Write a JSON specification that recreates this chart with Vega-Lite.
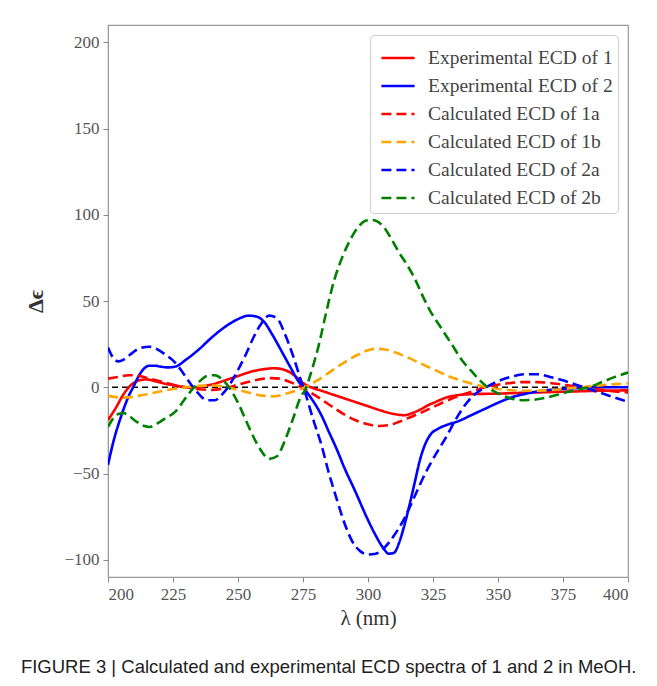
{
  "$schema": "https://vega.github.io/schema/vega-lite/v6.json",
  "width": 520,
  "height": 552,
  "autosize": {"type": "none"},
  "padding": {"left": 108, "top": 25, "right": 29, "bottom": 109},
  "background": "white",
  "config": {"view": {"stroke": "#999", "strokeWidth": 1.2}, "font": "Liberation Serif"},
  "title": {"text": "FIGURE 3 | Calculated and experimental ECD spectra of 1 and 2 in MeOH.", "orient": "bottom", "anchor": "start", "font": "Liberation Sans", "fontSize": 18.5, "fontWeight": "normal", "color": "#222", "dx": -4, "offset": 30},
  "layer": [
    {
      "data": {"values": [{}]},
      "mark": {"type": "rule", "strokeDash": [6, 4], "color": "black", "strokeWidth": 1.6},
      "encoding": {"y": {"datum": 0, "type": "quantitative", "scale": {"domain": [-110, 210], "nice": false}}}
    },
    {
      "data": {"values": [
        {"s":"Experimental ECD of 1","x":200,"y":-19},{"s":"Experimental ECD of 1","x":203,"y":-12},{"s":"Experimental ECD of 1","x":206,"y":-4},{"s":"Experimental ECD of 1","x":209,"y":1.5},{"s":"Experimental ECD of 1","x":212,"y":4},{"s":"Experimental ECD of 1","x":215,"y":4.5},{"s":"Experimental ECD of 1","x":218,"y":3.5},{"s":"Experimental ECD of 1","x":222,"y":2},{"s":"Experimental ECD of 1","x":226,"y":1},{"s":"Experimental ECD of 1","x":230,"y":0},{"s":"Experimental ECD of 1","x":234,"y":0},{"s":"Experimental ECD of 1","x":238,"y":1},{"s":"Experimental ECD of 1","x":242,"y":2.5},{"s":"Experimental ECD of 1","x":246,"y":4.5},{"s":"Experimental ECD of 1","x":250,"y":6.5},{"s":"Experimental ECD of 1","x":255,"y":9},{"s":"Experimental ECD of 1","x":260,"y":10.5},{"s":"Experimental ECD of 1","x":264,"y":11},{"s":"Experimental ECD of 1","x":268,"y":10},{"s":"Experimental ECD of 1","x":272,"y":6.5},{"s":"Experimental ECD of 1","x":275,"y":2.5},{"s":"Experimental ECD of 1","x":278,"y":0},{"s":"Experimental ECD of 1","x":282,"y":-2},{"s":"Experimental ECD of 1","x":286,"y":-4},{"s":"Experimental ECD of 1","x":290,"y":-6},{"s":"Experimental ECD of 1","x":295,"y":-8.5},{"s":"Experimental ECD of 1","x":300,"y":-11},{"s":"Experimental ECD of 1","x":305,"y":-13.5},{"s":"Experimental ECD of 1","x":310,"y":-15.5},{"s":"Experimental ECD of 1","x":314,"y":-16.2},{"s":"Experimental ECD of 1","x":317,"y":-15},{"s":"Experimental ECD of 1","x":320,"y":-13},{"s":"Experimental ECD of 1","x":323,"y":-10.5},{"s":"Experimental ECD of 1","x":326,"y":-8.5},{"s":"Experimental ECD of 1","x":330,"y":-6},{"s":"Experimental ECD of 1","x":335,"y":-4.5},{"s":"Experimental ECD of 1","x":340,"y":-4},{"s":"Experimental ECD of 1","x":350,"y":-3.7},{"s":"Experimental ECD of 1","x":360,"y":-3.2},{"s":"Experimental ECD of 1","x":370,"y":-2.8},{"s":"Experimental ECD of 1","x":380,"y":-2.4},{"s":"Experimental ECD of 1","x":390,"y":-2},{"s":"Experimental ECD of 1","x":400,"y":-1.8},
        {"s":"Experimental ECD of 2","x":200,"y":-45},{"s":"Experimental ECD of 2","x":202,"y":-32},{"s":"Experimental ECD of 2","x":205,"y":-17},{"s":"Experimental ECD of 2","x":208,"y":-5},{"s":"Experimental ECD of 2","x":210,"y":1},{"s":"Experimental ECD of 2","x":212,"y":7},{"s":"Experimental ECD of 2","x":214,"y":11},{"s":"Experimental ECD of 2","x":216,"y":12.5},{"s":"Experimental ECD of 2","x":218,"y":12.5},{"s":"Experimental ECD of 2","x":220,"y":12},{"s":"Experimental ECD of 2","x":223,"y":11.5},{"s":"Experimental ECD of 2","x":226,"y":12},{"s":"Experimental ECD of 2","x":230,"y":16},{"s":"Experimental ECD of 2","x":235,"y":22},{"s":"Experimental ECD of 2","x":240,"y":29},{"s":"Experimental ECD of 2","x":245,"y":35},{"s":"Experimental ECD of 2","x":250,"y":39.5},{"s":"Experimental ECD of 2","x":254,"y":41.5},{"s":"Experimental ECD of 2","x":257,"y":41},{"s":"Experimental ECD of 2","x":260,"y":38},{"s":"Experimental ECD of 2","x":263,"y":31},{"s":"Experimental ECD of 2","x":266,"y":23},{"s":"Experimental ECD of 2","x":270,"y":12},{"s":"Experimental ECD of 2","x":273,"y":4},{"s":"Experimental ECD of 2","x":275,"y":0},{"s":"Experimental ECD of 2","x":278,"y":-6},{"s":"Experimental ECD of 2","x":282,"y":-16},{"s":"Experimental ECD of 2","x":285,"y":-26},{"s":"Experimental ECD of 2","x":288,"y":-36},{"s":"Experimental ECD of 2","x":291,"y":-47},{"s":"Experimental ECD of 2","x":295,"y":-60},{"s":"Experimental ECD of 2","x":300,"y":-77},{"s":"Experimental ECD of 2","x":303,"y":-86},{"s":"Experimental ECD of 2","x":306,"y":-93.5},{"s":"Experimental ECD of 2","x":308,"y":-96.5},{"s":"Experimental ECD of 2","x":310,"y":-96},{"s":"Experimental ECD of 2","x":312,"y":-90},{"s":"Experimental ECD of 2","x":314,"y":-80},{"s":"Experimental ECD of 2","x":316,"y":-68},{"s":"Experimental ECD of 2","x":318,"y":-55},{"s":"Experimental ECD of 2","x":320,"y":-42},{"s":"Experimental ECD of 2","x":322,"y":-33},{"s":"Experimental ECD of 2","x":324,"y":-27.5},{"s":"Experimental ECD of 2","x":327,"y":-24},{"s":"Experimental ECD of 2","x":330,"y":-22},{"s":"Experimental ECD of 2","x":335,"y":-19.5},{"s":"Experimental ECD of 2","x":340,"y":-16},{"s":"Experimental ECD of 2","x":345,"y":-12.5},{"s":"Experimental ECD of 2","x":350,"y":-9},{"s":"Experimental ECD of 2","x":355,"y":-6},{"s":"Experimental ECD of 2","x":360,"y":-4},{"s":"Experimental ECD of 2","x":365,"y":-2.5},{"s":"Experimental ECD of 2","x":370,"y":-1.5},{"s":"Experimental ECD of 2","x":375,"y":-1},{"s":"Experimental ECD of 2","x":380,"y":-0.5},{"s":"Experimental ECD of 2","x":390,"y":0},{"s":"Experimental ECD of 2","x":400,"y":0},
        {"s":"Calculated ECD of 1a","x":200,"y":5},{"s":"Calculated ECD of 1a","x":204,"y":6},{"s":"Calculated ECD of 1a","x":208,"y":7},{"s":"Calculated ECD of 1a","x":212,"y":6.5},{"s":"Calculated ECD of 1a","x":216,"y":5},{"s":"Calculated ECD of 1a","x":220,"y":3.5},{"s":"Calculated ECD of 1a","x":225,"y":1.5},{"s":"Calculated ECD of 1a","x":230,"y":0},{"s":"Calculated ECD of 1a","x":235,"y":-1.2},{"s":"Calculated ECD of 1a","x":240,"y":-1.5},{"s":"Calculated ECD of 1a","x":245,"y":-0.5},{"s":"Calculated ECD of 1a","x":250,"y":1.5},{"s":"Calculated ECD of 1a","x":255,"y":3.5},{"s":"Calculated ECD of 1a","x":260,"y":5},{"s":"Calculated ECD of 1a","x":263,"y":5.3},{"s":"Calculated ECD of 1a","x":266,"y":5},{"s":"Calculated ECD of 1a","x":270,"y":3},{"s":"Calculated ECD of 1a","x":275,"y":-0.5},{"s":"Calculated ECD of 1a","x":280,"y":-5},{"s":"Calculated ECD of 1a","x":285,"y":-10},{"s":"Calculated ECD of 1a","x":290,"y":-15},{"s":"Calculated ECD of 1a","x":295,"y":-19},{"s":"Calculated ECD of 1a","x":300,"y":-21.5},{"s":"Calculated ECD of 1a","x":304,"y":-22.5},{"s":"Calculated ECD of 1a","x":308,"y":-22},{"s":"Calculated ECD of 1a","x":312,"y":-20},{"s":"Calculated ECD of 1a","x":316,"y":-17.5},{"s":"Calculated ECD of 1a","x":320,"y":-15},{"s":"Calculated ECD of 1a","x":325,"y":-11.5},{"s":"Calculated ECD of 1a","x":330,"y":-8},{"s":"Calculated ECD of 1a","x":335,"y":-5},{"s":"Calculated ECD of 1a","x":340,"y":-2.5},{"s":"Calculated ECD of 1a","x":345,"y":0},{"s":"Calculated ECD of 1a","x":350,"y":1.5},{"s":"Calculated ECD of 1a","x":355,"y":2.5},{"s":"Calculated ECD of 1a","x":360,"y":3},{"s":"Calculated ECD of 1a","x":365,"y":3},{"s":"Calculated ECD of 1a","x":370,"y":2.5},{"s":"Calculated ECD of 1a","x":375,"y":1.5},{"s":"Calculated ECD of 1a","x":380,"y":0.5},{"s":"Calculated ECD of 1a","x":385,"y":-0.5},{"s":"Calculated ECD of 1a","x":390,"y":-1.5},{"s":"Calculated ECD of 1a","x":395,"y":-2.5},{"s":"Calculated ECD of 1a","x":400,"y":-3},
        {"s":"Calculated ECD of 1b","x":200,"y":-5},{"s":"Calculated ECD of 1b","x":205,"y":-6},{"s":"Calculated ECD of 1b","x":210,"y":-5.5},{"s":"Calculated ECD of 1b","x":215,"y":-4},{"s":"Calculated ECD of 1b","x":220,"y":-2.5},{"s":"Calculated ECD of 1b","x":225,"y":-1},{"s":"Calculated ECD of 1b","x":230,"y":0},{"s":"Calculated ECD of 1b","x":235,"y":0.8},{"s":"Calculated ECD of 1b","x":240,"y":1},{"s":"Calculated ECD of 1b","x":245,"y":0.3},{"s":"Calculated ECD of 1b","x":250,"y":-1.5},{"s":"Calculated ECD of 1b","x":255,"y":-3.5},{"s":"Calculated ECD of 1b","x":260,"y":-5},{"s":"Calculated ECD of 1b","x":263,"y":-5.3},{"s":"Calculated ECD of 1b","x":266,"y":-4.8},{"s":"Calculated ECD of 1b","x":270,"y":-3},{"s":"Calculated ECD of 1b","x":275,"y":-0.5},{"s":"Calculated ECD of 1b","x":280,"y":3.5},{"s":"Calculated ECD of 1b","x":285,"y":8.5},{"s":"Calculated ECD of 1b","x":290,"y":13.5},{"s":"Calculated ECD of 1b","x":295,"y":18},{"s":"Calculated ECD of 1b","x":300,"y":21.5},{"s":"Calculated ECD of 1b","x":303,"y":22.3},{"s":"Calculated ECD of 1b","x":306,"y":22},{"s":"Calculated ECD of 1b","x":310,"y":20.5},{"s":"Calculated ECD of 1b","x":315,"y":17.5},{"s":"Calculated ECD of 1b","x":320,"y":14},{"s":"Calculated ECD of 1b","x":325,"y":10.5},{"s":"Calculated ECD of 1b","x":330,"y":7},{"s":"Calculated ECD of 1b","x":335,"y":4.3},{"s":"Calculated ECD of 1b","x":340,"y":2},{"s":"Calculated ECD of 1b","x":345,"y":0.3},{"s":"Calculated ECD of 1b","x":350,"y":-1},{"s":"Calculated ECD of 1b","x":355,"y":-1.7},{"s":"Calculated ECD of 1b","x":360,"y":-2},{"s":"Calculated ECD of 1b","x":365,"y":-2},{"s":"Calculated ECD of 1b","x":370,"y":-1.7},{"s":"Calculated ECD of 1b","x":375,"y":-1},{"s":"Calculated ECD of 1b","x":380,"y":-0.2},{"s":"Calculated ECD of 1b","x":385,"y":0.5},{"s":"Calculated ECD of 1b","x":390,"y":1.2},{"s":"Calculated ECD of 1b","x":395,"y":1.8},{"s":"Calculated ECD of 1b","x":400,"y":2.2},
        {"s":"Calculated ECD of 2a","x":200,"y":23},{"s":"Calculated ECD of 2a","x":202,"y":17},{"s":"Calculated ECD of 2a","x":204,"y":15},{"s":"Calculated ECD of 2a","x":206,"y":16},{"s":"Calculated ECD of 2a","x":209,"y":19.5},{"s":"Calculated ECD of 2a","x":212,"y":22.5},{"s":"Calculated ECD of 2a","x":216,"y":23.5},{"s":"Calculated ECD of 2a","x":219,"y":22},{"s":"Calculated ECD of 2a","x":222,"y":19},{"s":"Calculated ECD of 2a","x":226,"y":14},{"s":"Calculated ECD of 2a","x":229,"y":8},{"s":"Calculated ECD of 2a","x":232,"y":1.5},{"s":"Calculated ECD of 2a","x":235,"y":-4},{"s":"Calculated ECD of 2a","x":238,"y":-7.5},{"s":"Calculated ECD of 2a","x":241,"y":-7.5},{"s":"Calculated ECD of 2a","x":244,"y":-4},{"s":"Calculated ECD of 2a","x":247,"y":2},{"s":"Calculated ECD of 2a","x":250,"y":10},{"s":"Calculated ECD of 2a","x":253,"y":19},{"s":"Calculated ECD of 2a","x":256,"y":29},{"s":"Calculated ECD of 2a","x":259,"y":37},{"s":"Calculated ECD of 2a","x":262,"y":41.5},{"s":"Calculated ECD of 2a","x":265,"y":40},{"s":"Calculated ECD of 2a","x":268,"y":31},{"s":"Calculated ECD of 2a","x":271,"y":19},{"s":"Calculated ECD of 2a","x":274,"y":5},{"s":"Calculated ECD of 2a","x":276,"y":-4},{"s":"Calculated ECD of 2a","x":279,"y":-19},{"s":"Calculated ECD of 2a","x":282,"y":-33},{"s":"Calculated ECD of 2a","x":285,"y":-50},{"s":"Calculated ECD of 2a","x":288,"y":-65},{"s":"Calculated ECD of 2a","x":291,"y":-79},{"s":"Calculated ECD of 2a","x":294,"y":-89.5},{"s":"Calculated ECD of 2a","x":297,"y":-95},{"s":"Calculated ECD of 2a","x":300,"y":-97},{"s":"Calculated ECD of 2a","x":303,"y":-96.5},{"s":"Calculated ECD of 2a","x":306,"y":-93.5},{"s":"Calculated ECD of 2a","x":310,"y":-86},{"s":"Calculated ECD of 2a","x":314,"y":-76},{"s":"Calculated ECD of 2a","x":318,"y":-63},{"s":"Calculated ECD of 2a","x":322,"y":-50},{"s":"Calculated ECD of 2a","x":326,"y":-39},{"s":"Calculated ECD of 2a","x":330,"y":-29},{"s":"Calculated ECD of 2a","x":334,"y":-18},{"s":"Calculated ECD of 2a","x":338,"y":-9},{"s":"Calculated ECD of 2a","x":342,"y":-3},{"s":"Calculated ECD of 2a","x":346,"y":0.5},{"s":"Calculated ECD of 2a","x":350,"y":3.5},{"s":"Calculated ECD of 2a","x":355,"y":6},{"s":"Calculated ECD of 2a","x":360,"y":7.5},{"s":"Calculated ECD of 2a","x":365,"y":7.5},{"s":"Calculated ECD of 2a","x":370,"y":6},{"s":"Calculated ECD of 2a","x":375,"y":4},{"s":"Calculated ECD of 2a","x":380,"y":1.5},{"s":"Calculated ECD of 2a","x":385,"y":-1},{"s":"Calculated ECD of 2a","x":390,"y":-3.5},{"s":"Calculated ECD of 2a","x":395,"y":-6},{"s":"Calculated ECD of 2a","x":400,"y":-8.5},
        {"s":"Calculated ECD of 2b","x":200,"y":-23},{"s":"Calculated ECD of 2b","x":202,"y":-18},{"s":"Calculated ECD of 2b","x":204,"y":-15.5},{"s":"Calculated ECD of 2b","x":206,"y":-15},{"s":"Calculated ECD of 2b","x":208,"y":-16.5},{"s":"Calculated ECD of 2b","x":211,"y":-20},{"s":"Calculated ECD of 2b","x":214,"y":-22.5},{"s":"Calculated ECD of 2b","x":216,"y":-23},{"s":"Calculated ECD of 2b","x":219,"y":-21},{"s":"Calculated ECD of 2b","x":222,"y":-18},{"s":"Calculated ECD of 2b","x":226,"y":-14},{"s":"Calculated ECD of 2b","x":229,"y":-8},{"s":"Calculated ECD of 2b","x":232,"y":-2},{"s":"Calculated ECD of 2b","x":235,"y":3},{"s":"Calculated ECD of 2b","x":238,"y":6.5},{"s":"Calculated ECD of 2b","x":241,"y":7},{"s":"Calculated ECD of 2b","x":244,"y":4.5},{"s":"Calculated ECD of 2b","x":247,"y":-1},{"s":"Calculated ECD of 2b","x":250,"y":-9},{"s":"Calculated ECD of 2b","x":253,"y":-19},{"s":"Calculated ECD of 2b","x":256,"y":-29},{"s":"Calculated ECD of 2b","x":259,"y":-37},{"s":"Calculated ECD of 2b","x":262,"y":-41.5},{"s":"Calculated ECD of 2b","x":265,"y":-40},{"s":"Calculated ECD of 2b","x":268,"y":-31},{"s":"Calculated ECD of 2b","x":271,"y":-19},{"s":"Calculated ECD of 2b","x":274,"y":-6},{"s":"Calculated ECD of 2b","x":276,"y":-1},{"s":"Calculated ECD of 2b","x":278,"y":8},{"s":"Calculated ECD of 2b","x":281,"y":24},{"s":"Calculated ECD of 2b","x":284,"y":44},{"s":"Calculated ECD of 2b","x":287,"y":62},{"s":"Calculated ECD of 2b","x":290,"y":75},{"s":"Calculated ECD of 2b","x":293,"y":85},{"s":"Calculated ECD of 2b","x":296,"y":92.5},{"s":"Calculated ECD of 2b","x":299,"y":96.5},{"s":"Calculated ECD of 2b","x":301,"y":97},{"s":"Calculated ECD of 2b","x":303,"y":96.5},{"s":"Calculated ECD of 2b","x":306,"y":93},{"s":"Calculated ECD of 2b","x":309,"y":86},{"s":"Calculated ECD of 2b","x":312,"y":78},{"s":"Calculated ECD of 2b","x":315,"y":71},{"s":"Calculated ECD of 2b","x":318,"y":63},{"s":"Calculated ECD of 2b","x":321,"y":53},{"s":"Calculated ECD of 2b","x":324,"y":44},{"s":"Calculated ECD of 2b","x":327,"y":37},{"s":"Calculated ECD of 2b","x":330,"y":30},{"s":"Calculated ECD of 2b","x":333,"y":23},{"s":"Calculated ECD of 2b","x":336,"y":16},{"s":"Calculated ECD of 2b","x":340,"y":9},{"s":"Calculated ECD of 2b","x":343,"y":4},{"s":"Calculated ECD of 2b","x":346,"y":0},{"s":"Calculated ECD of 2b","x":350,"y":-3.5},{"s":"Calculated ECD of 2b","x":355,"y":-6.5},{"s":"Calculated ECD of 2b","x":360,"y":-7.5},{"s":"Calculated ECD of 2b","x":365,"y":-7},{"s":"Calculated ECD of 2b","x":370,"y":-5.5},{"s":"Calculated ECD of 2b","x":375,"y":-3.5},{"s":"Calculated ECD of 2b","x":380,"y":-1.5},{"s":"Calculated ECD of 2b","x":385,"y":0},{"s":"Calculated ECD of 2b","x":390,"y":3},{"s":"Calculated ECD of 2b","x":395,"y":6},{"s":"Calculated ECD of 2b","x":400,"y":8.5}
      ]},
      "mark": {"type": "line", "interpolate": "monotone", "strokeWidth": 2.6, "clip": true},
      "encoding": {
        "x": {"field": "x", "type": "quantitative", "scale": {"domain": [200, 400], "nice": false, "zero": false},
          "axis": {"values": [200, 225, 250, 275, 300, 325, 350, 375, 400], "grid": false, "title": "λ (nm)", "labelFont": "Liberation Serif", "labelFontSize": 17, "labelColor": "#555", "tickColor": "#888", "domainColor": "#999", "tickSize": 5, "labelPadding": 4, "titleFont": "Liberation Serif", "titleFontSize": 21, "titleFontWeight": "normal", "titleColor": "#333", "titlePadding": 5}},
        "y": {"field": "y", "type": "quantitative", "scale": {"domain": [-110, 210], "nice": false, "zero": false},
          "axis": {"values": [-100, -50, 0, 50, 100, 150, 200], "grid": false, "title": "Δϵ", "labelFont": "Liberation Serif", "labelFontSize": 17, "labelColor": "#555", "tickColor": "#888", "domainColor": "#999", "tickSize": 5, "labelPadding": 4, "titleFont": "Liberation Serif", "titleFontSize": 22, "titleFontWeight": "bold", "titleColor": "#333", "titlePadding": 16}},
        "color": {"field": "s", "type": "nominal",
          "scale": {"domain": ["Experimental ECD of 1", "Experimental ECD of 2", "Calculated ECD of 1a", "Calculated ECD of 1b", "Calculated ECD of 2a", "Calculated ECD of 2b"], "range": ["#ff0000", "#0000ff", "#ff0000", "#ffa500", "#0000ff", "#008000"]},
          "legend": {"title": null, "orient": "top-right", "offset": 10, "fillColor": "white", "strokeColor": "#cccccc", "cornerRadius": 4, "padding": 5, "symbolType": "stroke", "symbolSize": 1100, "symbolOffset": 5, "symbolStrokeWidth": 2.6, "labelFont": "Liberation Serif", "labelFontSize": 19.5, "labelColor": "#444", "rowPadding": 0, "labelOffset": 12, "labelLimit": 300}},
        "strokeDash": {"field": "s", "type": "nominal",
          "scale": {"domain": ["Experimental ECD of 1", "Experimental ECD of 2", "Calculated ECD of 1a", "Calculated ECD of 1b", "Calculated ECD of 2a", "Calculated ECD of 2b"], "range": [[1, 0], [1, 0], [10, 5], [10, 5], [10, 5], [10, 5]]},
          "legend": {"title": null, "orient": "top-right", "offset": 10, "fillColor": "white", "strokeColor": "#cccccc", "cornerRadius": 4, "padding": 5, "symbolType": "stroke", "symbolSize": 1100, "symbolOffset": 5, "symbolStrokeWidth": 2.6, "labelFont": "Liberation Serif", "labelFontSize": 19.5, "labelColor": "#444", "rowPadding": 0, "labelOffset": 12, "labelLimit": 300}}
      }
    }
  ]
}
